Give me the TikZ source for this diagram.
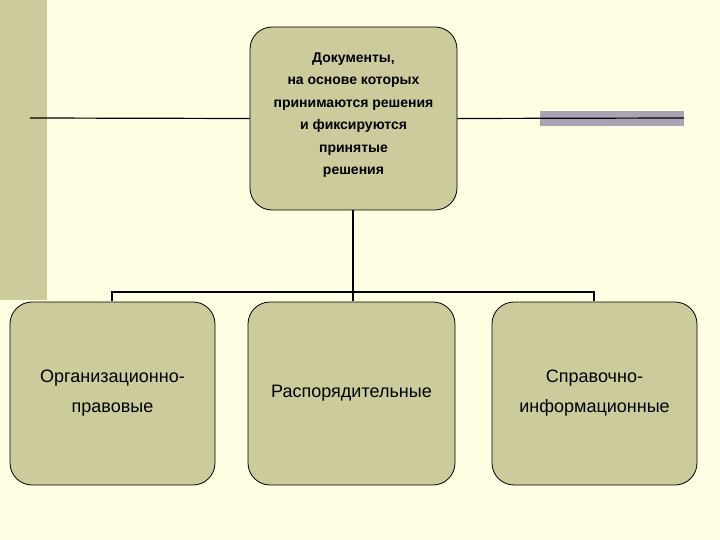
\documentclass[tikz,border=0pt]{standalone}
\usepackage{fontspec}
\setmainfont{Liberation Sans}
\begin{document}
\begin{tikzpicture}[x=1pt,y=-1pt,
  box/.style={draw=black,line width=0.8pt,fill=olive1,rounded corners=22pt,align=center,inner sep=0pt},
  ln/.style={draw=black,line width=1.2pt}]
\definecolor{bg}{HTML}{FFFFE3}
\definecolor{olive1}{HTML}{CBCB9B}
\definecolor{bar}{HTML}{ABA3B3}
\fill[bg] (0,0) rectangle (720,540);
\useasboundingbox (0,0) rectangle (720,540);
\fill[olive1] (0,0) rectangle (47,300);
\fill[bar] (540,111) rectangle (684,126);
\node[box,minimum width=207pt,minimum height=183pt] (top) at (353.5,118.5) {};
\node[font=\bfseries\fontsize{14pt}{22.5pt}\selectfont,align=center] (toptxt) at (353.5,115) {Документы,\\на основе которых\\принимаются решения\\и фиксируются\\принятые\\решения};
\coordinate (l1) at (30,118);
\coordinate (r1) at (684,118);
\draw[ln] (l1) -- (top.west);
\draw[ln] (top.east) -- (r1);
\node[box,minimum width=205pt,minimum height=183pt] (a) at (112.5,393.5) {};
\node[box,minimum width=207pt,minimum height=183pt] (b) at (351.5,393.5) {};
\node[box,minimum width=205pt,minimum height=183pt] (c) at (594.5,393.5) {};
\node[font=\fontsize{18pt}{30pt}\selectfont,align=center] at (a) {Организационно-\\правовые};
\node[font=\fontsize{18pt}{30pt}\selectfont,align=center] at (b) {Распорядительные};
\node[font=\fontsize{18pt}{30pt}\selectfont,align=center] at (c) {Справочно-\\информационные};
\coordinate (j) at (353,292);
\draw[line width=2pt] (top.south -| j) -- (353,245);
\draw[ln] (353,245) -- (j);
\draw[ln] (112,301) -- (112,292) -- (594,292) -- (594,301);
\draw[ln] (j) -- (353,301);
\end{tikzpicture}
\end{document}
